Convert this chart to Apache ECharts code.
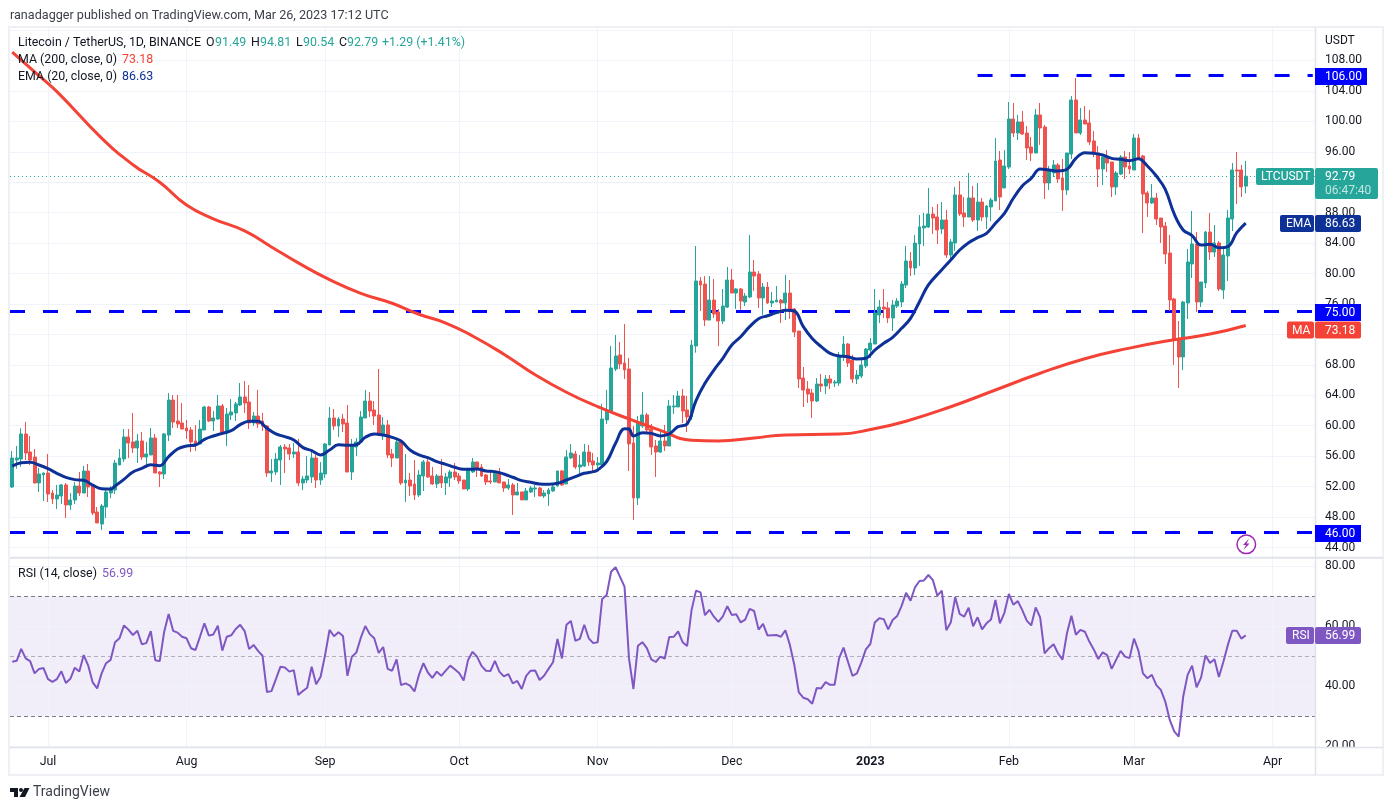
<!DOCTYPE html>
<html><head><meta charset="utf-8"><title>LTCUSDT</title>
<style>html,body{margin:0;padding:0;background:#fff}#c{width:1393px;height:810px}</style>
<script src="https://cdn.jsdelivr.net/npm/echarts@6/dist/echarts.min.js"></script></head>
<body><div id="c"></div>
<script>
const firstDay = '2022-06-23';
const dayCount = 292;
const tickDates = ['2022-07-01','2022-08-01','2022-09-01','2022-10-01','2022-11-01','2022-12-01','2023-01-01','2023-02-01','2023-03-01','2023-04-01'];
const tickLabels = ['Jul','Aug','Sep','Oct','Nov','Dec','2023','Feb','Mar','Apr'];
const priceTicks = [44,48,52,56,60,64,68,72,76,80,84,88,92,96,100,104,108];
const priceGrid = [44,48,52,56,60,64,68,72,76,80,84,88,92,96,100,104,108,112];
const rsiTicks = [20,40,60,80];

const opens = [51.95,55.5,55.63,58.92,56.55,55.89,52.48,53.53,53.79,51.16,
50.38,50.77,52.22,49.59,50.24,52.08,51.16,54.05,52.08,48.67,
47.09,49.32,51.16,51.56,54.84,55.63,58.52,57.87,57.08,58.0,
55.89,56.16,58.39,53.92,53.66,58.78,63.38,60.62,60.36,59.7,
59.44,58.0,57.6,59.44,62.46,60.62,60.89,62.6,59.05,61.41,
61.68,62.73,63.78,63.12,60.36,61.28,60.62,59.97,53.79,53.92,
55.5,57.21,57.08,56.29,56.55,52.48,52.87,53.27,55.76,52.87,
53.66,57.47,61.02,59.97,60.89,60.36,53.92,57.21,57.87,61.02,
63.25,62.07,61.41,58.78,60.1,56.29,55.76,57.87,52.48,52.87,
52.35,50.9,53.4,55.24,53.4,52.35,53.4,52.48,53.13,53.92,
53.4,52.87,51.69,53.93,55.24,54.58,53.53,52.74,52.61,53.8,
52.61,51.82,52.22,50.9,51.3,50.25,51.3,51.69,51.82,50.77,
51.04,51.43,52.09,54.06,52.35,55.77,56.29,54.58,54.72,56.55,
55.37,54.85,54.85,60.76,61.81,67.46,69.3,68.25,67.46,57.74,
50.51,59.97,61.42,59.58,57.34,56.55,58.0,57.34,62.47,62.47,
63.91,62.07,61.15,70.48,79.02,78.62,73.89,76.52,74.95,73.76,
75.6,79.15,77.44,77.97,76.26,76.92,80.2,79.94,76.79,78.23,
76.13,76.26,76.52,76.13,77.44,75.34,72.45,66.27,64.83,64.3,
63.25,65.48,65.22,66.14,65.61,65.61,69.16,70.74,68.64,66.14,
66.53,67.85,69.95,70.74,74.55,75.6,75.47,74.16,75.73,76.26,
78.49,81.65,80.73,83.88,85.99,86.12,87.83,87.43,85.86,87.04,
82.44,84.02,90.33,87.96,87.43,89.93,87.04,89.4,87.43,88.75,
89.54,94.92,91.25,94.0,100.31,98.47,99.92,98.47,96.63,95.84,
100.84,99.26,91.9,93.22,94.27,92.56,90.98,95.71,102.81,98.47,
100.18,99.79,97.42,95.84,93.74,95.32,94.66,91.38,93.08,95.32,
94.13,93.61,97.81,95.45,90.59,89.27,89.93,87.3,86.25,82.7,
76.66,71.4,69.04,76.13,81.26,83.89,76.26,78.76,85.46,82.83,
84.02,77.84,82.31,87.17,93.61,93.61,91.49];

const closes = [55.76,55.76,58.92,56.42,55.5,52.48,53.66,53.79,51.03,50.38,
50.9,52.22,49.59,50.24,52.08,51.16,54.05,51.95,48.54,47.22,
49.46,51.29,51.56,55.1,55.76,58.52,57.73,57.08,58.0,55.89,
56.29,58.39,53.79,53.66,58.92,63.38,60.49,60.23,59.57,59.31,
57.87,57.47,59.57,62.46,60.62,61.02,62.6,59.05,61.54,61.81,
62.86,63.78,62.99,60.36,61.28,60.23,59.97,53.79,54.05,55.63,
57.21,56.95,56.29,56.55,52.48,53.0,53.4,55.76,52.87,53.79,
57.6,61.02,59.97,60.89,60.23,53.92,57.34,57.87,61.15,63.25,
61.94,61.28,58.78,60.1,56.16,55.76,57.87,52.48,52.87,52.08,
50.9,53.53,55.24,53.27,52.35,53.4,52.48,53.27,53.92,53.27,
52.74,51.69,54.19,55.24,54.45,53.4,52.61,52.61,53.93,52.48,
51.82,52.22,50.9,51.3,50.25,51.43,51.82,51.82,50.77,51.17,
51.56,51.96,54.06,52.22,55.9,56.42,54.58,54.85,56.55,55.24,
54.85,55.11,60.89,62.07,67.59,69.17,68.12,67.33,57.61,50.51,
60.5,61.42,59.45,57.21,56.55,58.0,57.34,62.6,62.6,63.91,
61.94,61.15,70.61,79.02,78.49,73.89,76.52,74.68,73.76,75.73,
79.15,77.44,77.97,76.39,77.05,80.2,79.68,76.79,78.23,76.13,
76.39,76.52,76.13,77.44,75.34,72.32,66.14,64.69,64.17,63.25,
65.48,65.22,66.14,65.61,65.75,69.16,70.74,68.24,66.14,66.67,
67.98,70.08,70.87,74.81,75.6,75.34,74.16,75.86,76.39,78.62,
81.65,80.73,84.0,86.12,86.25,87.83,87.3,85.73,87.04,82.44,
84.15,90.33,87.83,87.43,89.93,87.04,89.4,87.43,88.88,89.67,
94.79,90.06,94.14,100.31,98.47,99.92,98.34,96.5,95.84,100.84,
99.13,91.9,93.48,94.27,92.43,90.98,95.84,102.81,98.47,100.18,
99.65,97.29,95.71,93.74,95.32,94.53,91.38,93.22,95.32,94.0,
93.74,97.81,95.19,90.46,89.27,89.93,87.17,86.12,82.57,76.53,
71.27,69.04,76.26,81.52,83.89,76.26,78.89,85.46,82.83,84.02,
77.97,82.44,87.3,93.61,93.48,91.38,92.79];

const lows = [51.82,54.36,54.62,55.5,54.84,52.43,51.29,50.11,49.98,49.72,
49.06,49.72,47.88,48.93,49.72,50.77,51.16,50.64,48.27,47.22,
46.3,47.88,50.51,51.03,54.84,55.24,55.76,56.42,55.11,55.5,
54.45,56.16,53.79,51.95,53.0,58.0,59.7,59.7,59.57,58.26,
56.55,56.68,57.6,59.44,60.49,59.31,60.76,58.78,57.34,60.76,
60.62,62.6,61.68,59.57,59.97,59.7,59.31,53.27,52.61,53.53,
52.22,53.79,55.5,55.76,52.08,51.56,52.48,52.48,51.82,52.22,
53.13,57.47,59.44,58.52,59.18,53.92,52.87,56.03,57.73,61.02,
61.15,60.1,58.78,58.13,55.76,54.58,55.76,52.22,49.98,50.77,
50.24,50.64,51.43,53.13,52.22,51.82,51.82,50.9,51.95,52.87,
52.35,51.69,51.43,53.8,53.27,53.27,52.22,52.35,52.61,52.48,
51.3,51.56,48.28,50.9,50.25,50.25,51.17,50.64,50.77,50.51,
49.46,51.3,51.96,52.09,52.35,55.64,54.32,53.53,54.58,54.72,
53.93,54.19,54.85,60.23,61.68,67.2,67.46,66.15,54.06,47.62,
49.59,59.71,58.92,56.16,53.27,56.42,56.69,57.34,61.55,62.47,
60.37,59.18,60.75,69.6,75.08,73.1,73.89,74.16,70.48,73.37,
75.47,77.44,75.34,75.21,75.73,76.79,77.7,75.47,74.55,76.0,
75.6,76.26,73.5,73.89,74.03,71.66,64.96,62.46,63.0,61.02,
63.12,64.43,64.17,64.83,65.09,65.22,68.51,67.72,65.61,65.48,
66.27,67.59,68.9,70.74,73.5,74.16,73.5,72.45,75.47,75.6,
78.1,79.68,79.8,81.0,83.62,85.99,85.2,83.88,85.2,82.05,
81.65,82.97,87.57,86.12,87.43,86.78,85.6,86.91,85.86,86.91,
89.54,88.35,91.25,93.74,97.95,97.55,98.21,94.92,94.79,95.84,
96.9,89.8,90.98,92.69,91.9,88.22,90.33,95.06,98.47,98.21,
99.65,96.9,95.3,91.38,91.64,93.35,90.06,90.33,92.95,92.43,
93.08,93.61,94.92,85.33,87.43,89.14,86.38,84.02,81.26,75.08,
67.99,64.96,67.33,74.03,79.42,74.95,75.61,78.1,81.78,82.18,
77.71,76.66,79.02,85.59,89.14,90.06,90.54];

const highs = [56.68,57.34,59.66,60.49,58.65,56.95,54.45,53.84,56.29,51.56,
52.22,52.35,52.48,51.16,52.61,53.92,54.71,54.97,52.22,49.32,
49.72,51.56,52.08,55.5,56.95,59.57,59.57,61.68,58.92,59.18,
57.87,59.7,58.92,54.05,59.05,64.3,64.04,64.04,62.99,60.76,
59.84,60.1,60.76,62.6,62.6,61.94,64.04,62.86,62.33,63.51,
63.12,65.62,65.88,65.35,61.81,64.7,61.68,60.1,55.63,56.42,
57.47,57.6,57.6,57.73,58.26,53.4,56.03,56.55,56.16,55.24,
57.73,62.46,62.2,61.15,61.54,62.73,58.26,58.39,61.94,64.7,
64.44,63.25,67.46,61.15,60.76,56.95,58.26,58.0,56.29,53.79,
55.5,54.19,55.5,55.89,54.58,53.66,55.63,53.79,54.19,55.11,
53.79,52.87,54.45,55.77,55.24,54.98,53.66,53.93,54.06,54.45,
52.61,53.01,52.48,52.48,51.3,51.82,52.09,52.22,51.96,51.56,
51.82,52.22,54.06,54.19,56.82,57.61,56.69,56.16,57.61,57.48,
56.42,55.9,62.86,64.7,70.48,71.93,71.01,73.37,68.91,59.97,
61.29,64.44,61.68,60.23,58.13,59.58,60.1,63.39,64.04,64.57,
64.83,63.91,71.27,83.62,79.54,79.67,79.67,79.28,75.34,77.97,
80.86,80.6,78.1,78.1,77.44,85.06,81.78,80.33,78.76,78.89,
77.57,78.36,76.65,79.81,79.15,75.47,72.45,67.72,65.88,64.83,
66.27,66.8,66.67,66.67,66.01,69.69,71.79,70.87,69.3,67.32,
68.64,70.21,71.53,77.97,76.52,77.97,76.26,76.52,76.78,79.02,
83.62,82.83,85.07,87.7,87.96,91.25,88.75,89.14,89.4,88.35,
84.54,91.38,92.16,90.06,93.22,91.51,91.9,89.93,89.01,89.93,
97.81,96.11,96.24,102.55,102.41,100.84,101.36,99.39,97.95,101.63,
102.41,99.52,94.14,94.92,94.53,95.06,95.84,103.33,105.7,101.76,
102.02,101.49,98.73,96.76,95.32,96.24,94.66,93.48,95.58,96.11,
95.98,98.34,98.34,95.58,90.85,91.77,90.59,87.3,86.78,85.07,
76.79,73.77,76.4,83.23,88.22,85.46,78.89,85.59,87.96,86.38,
84.28,83.23,88.35,94.53,95.97,94.27,94.81];

const emaDays = [0,2,4,6,8,10,12,14,16,18,20,22,23,25,27,29,31,33,35,37,39,41,43,45,47,49,51,53,55,57,59,61,63,65,67,69,71,73,75,77,79,81,83,85,87,89,91,93,95,97,99,101,104,106,108,110,112,114,116,118,120,122,124,126,128,130,131,133,135,137,138,139,141,143,145,147,149,151,153,155,157,159,161,163,165,167,169,171,173,175,177,179,181,183,185,187,189,191,193,195,197,199,201,203,205,208,210,212,214,216,218,220,222,224,226,228,230,232,234,236,238,240,242,244,246,248,250,252,254,256,258,260,262,264,266,268,270,272,274,276];
const emaValues = [54.7,55.15,55.2,54.84,54.36,53.75,53.22,52.92,52.83,52.2,51.73,51.69,52.08,52.96,53.92,54.4,54.88,54.75,55.94,56.94,57.34,57.47,58.2,58.65,59.0,59.35,60.14,60.58,60.58,59.66,58.92,58.57,58.13,57.16,56.73,56.16,56.81,57.51,57.43,57.51,58.48,58.92,58.78,58.48,58.0,56.81,56.16,55.81,55.28,54.93,54.54,54.27,54.32,54.06,53.97,53.66,53.23,52.79,52.57,52.35,52.31,52.44,52.87,53.31,53.75,53.97,54.19,55.28,57.69,59.62,59.58,58.66,59.09,59.0,58.66,58.92,59.88,60.23,63.3,65.57,67.32,68.86,70.61,71.7,73.02,74.07,74.46,74.86,75.19,75.08,73.02,71.48,70.39,69.51,69.16,69.08,68.77,68.86,69.95,70.83,71.62,72.8,74.11,76.3,78.5,80.5,81.78,83.1,84.06,84.72,85.29,86.6,87.91,89.89,91.51,92.51,93.74,93.61,93.48,93.7,95.14,95.89,95.8,95.58,95.14,95.01,94.84,95.1,94.14,92.82,91.07,87.83,85.73,84.98,83.75,83.84,83.4,83.54,85.37,86.63];

const maDays = [0,5,10,20,27,33,39,45,52,58,64,71,78,85,91,97,103,110,117,124,131,138,145,152,158,166,173,185,192,200,210,220,230,240,250,259,268,276];
const maValues = [109.1,106.5,103.9,97.8,94.3,92.0,89.0,87.2,85.6,83.5,81.4,79.2,77.4,76.1,74.65,73.5,71.8,69.4,66.7,64.4,62.5,60.9,59.4,58.1,58.0,58.4,58.8,58.9,59.5,60.6,62.5,64.7,66.9,68.8,70.2,71.2,72.05,73.18];

const rsiValues = [48.2,48.5,52.5,49.3,48.4,44.3,45.8,46.1,42.4,41.5,42.4,45.0,41.1,42.5,46.2,44.9,50.4,46.9,41.3,39.3,44.3,47.7,48.8,54.7,56.0,60.3,58.9,57.1,58.5,54.0,54.4,58.4,48.7,48.4,58.2,64.1,58.5,57.9,56.5,56.0,52.7,52.1,56.5,61.0,56.9,57.3,60.2,51.9,56.5,57.0,59.1,60.5,58.4,52.4,53.8,51.8,50.2,38.1,38.4,42.4,46.5,46.3,44.9,45.4,37.1,38.4,39.5,46.5,40.7,43.2,50.4,58.8,56.7,58.0,56.8,43.5,49.9,51.3,56.2,60.1,57.4,56.0,51.1,53.1,45.8,45.2,49.0,40.4,41.0,40.2,38.3,43.8,47.7,44.6,42.8,44.9,
43.5,45.2,46.9,45.7,44.4,41.9,48.8,51.5,49.9,46.8,45.2,45.1,48.5,44.9,43.3,44.1,41.0,41.8,39.1,43.5,45.2,45.3,42.1,43.5,45.8,48.0,55.8,49.3,60.5,61.8,55.2,55.8,60.5,56.0,54.4,54.7,69.1,70.4,78.2,79.7,76.5,73.2,49.3,39.1,53.5,54.7,52.7,49.0,48.1,49.9,49.2,56.4,56.5,58.3,54.7,53.4,65.4,71.9,71.3,63.7,65.5,63.2,61.5,63.3,66.7,63.8,64.0,61.3,62.2,65.8,65.1,58.9,60.8,56.9,57.0,57.1,56.5,58.7,
53.8,47.1,38.0,36.2,35.7,34.2,39.4,39.3,41.4,40.5,40.5,49.3,52.9,48.2,43.5,44.3,48.0,52.3,54.1,61.3,
62.7,62.4,59.0,62.1,63.4,66.8,71.2,68.5,73.0,75.1,75.3,77.1,75.4,70.2,71.9,58.7,61.3,69.7,64.1,63.2,66.2,60.0,63.0,59.0,61.0,62.3,68.8,61.0,64.5,70.8,67.2,68.4,65.4,61.9,60.3,66.3,63.0,51.0,52.7,54.0,51.0,48.9,57.7,63.5,57.2,58.8,58.2,54.9,52.3,49.1,51.3,50.4,45.8,48.8,51.8,49.9,49.4,55.9,51.8,44.3,42.7,43.8,40.4,38.8,34.9,28.8,25.0,23.2,36.5,43.8,46.9,39.7,42.9,50.3,47.8,49.0,43.1,48.2,53.8,58.5,58.5,55.9,56.99];

const levels = [75, 46];
const topLevel = 106;
const lastPrice = 92.79;

const categories = [];
for (let i = 0; i < dayCount; i++) {
  const d = new Date(Date.parse(firstDay + 'T00:00:00Z') + i * 86400000);
  categories.push(d.toISOString().slice(0, 10));
}
const candles = opens.map((o, i) => [o, closes[i], lows[i], highs[i]]);
const pairs = (xs, ys) => xs.map((x, i) => [categories[x], ys[i]]);

const FONT = 'Roboto, sans-serif';
const INK = '#131722', GRID = '#f0f3fa', BORDER = '#e0e3eb';
const UP = '#26a69a', DOWN = '#ef5350', EMA = '#0d3196', MA = '#f44336', RSI = '#7e57c2', LEVEL = '#0000ff';

const TEXT_DROP = 1.2;
const T = (x, y, text, fill, size, extra) => ({type:'text', z:120, silent:true,
  style:Object.assign({x, y:y + TEXT_DROP, text, fill, font:(size||12)+'px '+FONT, verticalAlign:'middle', align:'left'}, extra||{})});
const R = (x, y, w, h, fill, r) => ({type:'rect', z:110, silent:true, shape:{x, y, width:w, height:h, r:r||0}, style:{fill}});

const graphics = [
  {type:'rect', z:90, silent:true, shape:{x:1316, y:748, width:66, height:26}, style:{fill:'#fff'}},
  {type:'rect', z:95, silent:true, shape:{x:9, y:27, width:1374, height:748}, style:{fill:'none', stroke:'#eef0f6', lineWidth:2}},
  {type:'line', z:96, silent:true, shape:{x1:10, y1:557.7, x2:1383, y2:557.7}, style:{stroke:BORDER, lineWidth:2}},
  {type:'line', z:96, silent:true, shape:{x1:10, y1:747.5, x2:1383, y2:747.5}, style:{stroke:BORDER, lineWidth:1.5}},
  {type:'line', z:96, silent:true, shape:{x1:1315.5, y1:28, x2:1315.5, y2:775}, style:{stroke:BORDER, lineWidth:1.5}},

  T(10, 14.5, 'ranadagger published on TradingView.com, Mar 26, 2023 17:12 UTC', '#3b3f4a', 12.6),
  T(18, 41.5, 'Litecoin / TetherUS, 1D, BINANCE', INK, 12.4),
  T(206, 41.5, 'O', INK, 12.4), T(215, 41.5, '91.49', UP, 12.4),
  T(251, 41.5, 'H', INK, 12.4), T(260, 41.5, '94.81', UP, 12.4),
  T(296, 41.5, 'L', INK, 12.4), T(303, 41.5, '90.54', UP, 12.4),
  T(339, 41.5, 'C', INK, 12.4), T(347, 41.5, '92.79', UP, 12.4),
  T(382, 41.5, '+1.29 (+1.41%)', UP, 12.4),
  T(18, 58.5, 'MA (200, close, 0)', INK, 12.4), T(122, 58.5, '73.18', MA, 12.4),
  T(18, 75.5, 'EMA (20, close, 0)', INK, 12.4), T(122, 75.5, '86.63', EMA, 12.4),
  T(18, 572.5, 'RSI (14, close)', INK, 12.4), T(102, 572.5, '56.99', RSI, 12.4),
  T(1325, 40, 'USDT', INK, 12),

  R(1315, 68, 52, 17, LEVEL), T(1325, 76, '106.00', '#fff', 12),
  R(1256, 168, 58, 17, UP, 2), T(1261, 176, 'LTCUSDT', '#fff', 12),
  R(1315, 168, 63, 31, UP, 2), T(1325, 176, '92.79', '#fff', 12), T(1325, 190, '06:47:40', '#c2e6e2', 12),
  R(1280, 215, 34, 17, EMA, 2), T(1286, 223, 'EMA', '#fff', 12),
  R(1315, 215, 46, 17, EMA, 2), T(1325, 223, '86.63', '#fff', 12),
  R(1315, 304, 46, 17, LEVEL), T(1325, 312, '75.00', '#fff', 12),
  R(1287, 321.5, 27, 17, MA, 2), T(1292, 329.5, 'MA', '#fff', 12),
  R(1315, 321.5, 46, 17, MA, 2), T(1325, 329.5, '73.18', '#fff', 12),
  R(1315, 525, 46, 17, LEVEL), T(1325, 533, '46.00', '#fff', 12),
  R(1286, 627, 28, 17, RSI, 2), T(1292, 635, 'RSI', '#fff', 12),
  R(1315, 627, 46, 17, RSI, 2), T(1325, 635, '56.99', '#fff', 12),

  {type:'circle', z:110, silent:true, shape:{cx:1246.3, cy:544.3, r:9.3}, style:{fill:'#fff', stroke:'#9c27b0', lineWidth:1.5}},
  {type:'polygon', z:111, silent:true, shape:{points:[[1249,538.5],[1243,545],[1246,545],[1243.5,550],[1249.5,543.5],[1246.5,543.5]]}, style:{fill:'#9c27b0'}},

  {type:'polygon', z:110, silent:true, shape:{points:[[10,788],[18,788],[18,797],[14,797],[14,792],[10,792]]}, style:{fill:INK}},
  {type:'circle', z:110, silent:true, shape:{cx:21, cy:790, r:2}, style:{fill:INK}},
  {type:'polygon', z:110, silent:true, shape:{points:[[24.5,788],[29.5,788],[25,797],[19.5,797]]}, style:{fill:INK}},
  T(33, 791, 'TradingView', '#3b3f4a', 14)
];

const vLines = tickDates.map(d => ({xAxis:d}));
const option = {
  animation:false,
  backgroundColor:'#fff',
  textStyle:{fontFamily:FONT},
  graphic:graphics,
  grid:[
    {left:10, right:78, top:27, height:530.7, show:false},
    {left:10, right:78, top:558, height:189, show:false}
  ],
  xAxis:[
    {type:'category', gridIndex:0, data:categories, boundaryGap:true,
     axisLine:{show:false}, axisTick:{show:false}, axisLabel:{show:false}, splitLine:{show:false}},
    {type:'category', gridIndex:1, data:categories, boundaryGap:true,
     axisLine:{show:false}, axisTick:{show:false}, splitLine:{show:false},
     axisLabel:{show:true, color:INK, fontSize:12.4, margin:9, fontFamily:FONT, hideOverlap:false,
       interval:(i, v) => tickDates.includes(v),
       formatter:v => { const l = tickLabels[tickDates.indexOf(v)]; return l === '2023' ? '{b|2023}' : l; },
       rich:{b:{fontWeight:'bold', fontSize:12.4, color:INK, fontFamily:FONT}}}}
  ],
  yAxis:[
    {type:'value', gridIndex:0, position:'right', min:42.66, max:112.4,
     axisLine:{show:false}, axisTick:{show:false}, splitLine:{show:false},
     axisLabel:{color:INK, fontSize:12, margin:10, padding:[3,0,0,0], fontFamily:FONT, customValues:priceTicks,
       formatter:v => v.toFixed(2)}},
    {type:'value', gridIndex:1, position:'right', min:19.77, max:82.77,
     axisLine:{show:false}, axisTick:{show:false}, splitLine:{show:false},
     axisLabel:{color:INK, fontSize:12, margin:10, padding:[3,0,0,0], fontFamily:FONT, customValues:rsiTicks,
       formatter:v => v.toFixed(2)}}
  ],
  series:[
    {type:'line', name:'grid0', xAxisIndex:0, yAxisIndex:0, data:[], silent:true, z:0,
     markLine:{silent:true, z:0, symbol:'none', label:{show:false}, animation:false,
       lineStyle:{color:GRID, width:1, type:'solid'}, data:vLines.concat(priceGrid.map(v => ({yAxis:v})))}},
    {type:'line', name:'grid1', xAxisIndex:1, yAxisIndex:1, data:[], silent:true, z:0,
     markLine:{silent:true, z:0, symbol:'none', label:{show:false}, animation:false,
       lineStyle:{color:GRID, width:1, type:'solid'}, data:vLines.concat(rsiTicks.map(v => ({yAxis:v})))}},
    {type:'line', name:'levels', xAxisIndex:0, yAxisIndex:0, data:[], silent:true, z:1,
     markLine:{silent:true, z:1, symbol:'none', label:{show:false}, animation:false,
       lineStyle:{color:LEVEL, width:3, type:[15,18]},
       data:levels.map(v => ({yAxis:v})).concat([[{coord:[categories[216], topLevel]},{coord:[categories[291], topLevel]}]])}},
    {type:'line', name:'last', xAxisIndex:0, yAxisIndex:0, data:[], silent:true, z:1,
     markLine:{silent:true, z:1, symbol:'none', label:{show:false}, animation:false,
       lineStyle:{color:UP, width:1, type:[1,3]}, data:[{yAxis:lastPrice}]}},
    {type:'candlestick', name:'LTCUSDT', xAxisIndex:0, yAxisIndex:0, data:candles, barWidth:3.4, z:2, silent:true,
     itemStyle:{color:UP, color0:DOWN, borderColor:UP, borderColor0:DOWN, borderWidth:1}},
    {type:'line', name:'MA', xAxisIndex:0, yAxisIndex:0, data:pairs(maDays, maValues), showSymbol:false, smooth:0.5, silent:true, z:3,
     lineStyle:{color:MA, width:3}},
    {type:'line', name:'EMA', xAxisIndex:0, yAxisIndex:0, data:pairs(emaDays, emaValues), showSymbol:false, smooth:0.4, silent:true, z:4,
     lineStyle:{color:EMA, width:3}},
    {type:'line', name:'RSI', xAxisIndex:1, yAxisIndex:1, data:rsiValues, showSymbol:false, silent:true, z:3,
     lineStyle:{color:RSI, width:2},
     markArea:{silent:true, z:0, itemStyle:{color:'rgba(126,87,194,0.1)'}, data:[[{yAxis:70},{yAxis:30}]]},
     markLine:{silent:true, z:1, symbol:'none', label:{show:false}, animation:false,
       data:[
         {yAxis:70, lineStyle:{color:'#787b86', width:1, type:[4,3]}},
         {yAxis:50, lineStyle:{color:'rgba(120,123,134,0.55)', width:1, type:[4,3]}},
         {yAxis:30, lineStyle:{color:'#787b86', width:1, type:[4,3]}}
       ]}}
  ]
};
const chart = echarts.init(document.getElementById('c'), null, {renderer:'canvas'});
chart.setOption(option);
</script></body></html>
